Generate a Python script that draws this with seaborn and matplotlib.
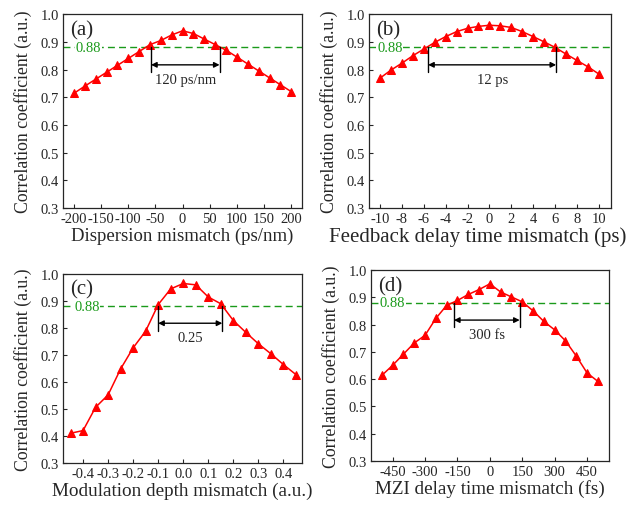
import numpy as np
import pandas as pd
import matplotlib
matplotlib.use("Agg")
import matplotlib.pyplot as plt
import seaborn as sns

# ---- data ----
disp_x = list(range(-200, 201, 20))
disp_y = [0.714, 0.740, 0.765, 0.790, 0.815, 0.840, 0.865, 0.890, 0.905, 0.925, 0.940,
          0.930, 0.910, 0.890, 0.870, 0.845, 0.820, 0.795, 0.770, 0.745, 0.720]

fb_x = list(range(-10, 11))
fb_y = [0.769, 0.798, 0.823, 0.850, 0.874, 0.898, 0.919, 0.937, 0.949, 0.956, 0.960,
        0.958, 0.952, 0.937, 0.919, 0.900, 0.880, 0.856, 0.833, 0.810, 0.784]

mod_x = [round(v, 2) for v in np.arange(-0.45, 0.451, 0.05)]
mod_y = [0.410, 0.420, 0.506, 0.552, 0.648, 0.726, 0.788, 0.886, 0.944, 0.964,
         0.959, 0.914, 0.889, 0.827, 0.783, 0.741, 0.704, 0.664, 0.627]

mzi_x = list(range(-500, 501, 50))
mzi_y = [0.614, 0.651, 0.692, 0.733, 0.761, 0.823, 0.871, 0.889, 0.911, 0.929, 0.950,
         0.920, 0.902, 0.884, 0.851, 0.812, 0.781, 0.741, 0.685, 0.623, 0.592]

threshold = 0.88

panels = [
    dict(tag="(a)", x=disp_x, y=disp_y, xlabel="Dispersion mismatch (ps/nm)", xfs=13.5,
         xlab_pos=0.5, xlim=(-220, 220), xticks=list(range(-200, 201, 50)),
         bracket=(-58, 68), text="120 ps/nm", thr_label_x=-174),
    dict(tag="(b)", x=fb_x, y=fb_y, xlabel="Feedback delay time mismatch (ps)", xfs=15.0,
         xlab_pos=0.45, xlim=(-11, 11.1), xticks=list(range(-10, 11, 2)),
         bracket=(-5.6, 6.1), text="12 ps", thr_label_x=-9.1),
    dict(tag="(c)", x=mod_x, y=mod_y, xlabel="Modulation depth mismatch (a.u.)", xfs=13.8,
         xlab_pos=0.5, xlim=(-0.48, 0.475),
         xticks=[-0.4, -0.3, -0.2, -0.1, 0.0, 0.1, 0.2, 0.3, 0.4],
         bracket=(-0.1, 0.156), text="0.25", thr_label_x=-0.385),
    dict(tag="(d)", x=mzi_x, y=mzi_y, xlabel="MZI delay time mismatch (fs)", xfs=13.8,
         xlab_pos=0.5, xlim=(-550, 551), xticks=list(range(-450, 451, 150)),
         bracket=(-166, 138), text="300 fs", thr_label_x=-452),
]

# axes rectangles [left, bottom, width, height] in figure fraction
rects = [
    [0.098, 0.587, 0.372, 0.383],
    [0.574, 0.587, 0.376, 0.383],
    [0.098, 0.083, 0.372, 0.374],
    [0.577, 0.087, 0.370, 0.377],
]

sns.set_style("ticks")
plt.rcParams["font.family"] = ["Liberation Serif", "DejaVu Serif"]
plt.rcParams["axes.unicode_minus"] = False

fig = plt.figure(figsize=(6.43, 5.06), dpi=100)

for p, r in zip(panels, rects):
    ax = fig.add_axes(r)
    df = pd.DataFrame({"x": p["x"], "y": p["y"]})
    sns.lineplot(data=df, x="x", y="y", ax=ax, color="red", marker="^",
                 markersize=5.5, markeredgecolor="red", linewidth=1.1)

    ax.axhline(threshold, color="#1a9a1a", linestyle=(0, (5, 3)), linewidth=1.0, zorder=1)
    ax.text(p["thr_label_x"], threshold, "0.88", color="#1a9a1a", fontsize=10.5,
            ha="center", va="center",
            bbox=dict(facecolor="white", edgecolor="none", pad=0.5), zorder=2)

    x0, x1 = p["bracket"]
    for xv in (x0, x1):
        ax.plot([xv, xv], [threshold, 0.79], color="black", linewidth=1.0, zorder=3)
    ax.annotate("", xy=(x0, 0.817), xytext=(x1, 0.817),
                arrowprops=dict(arrowstyle="<|-|>", color="black", lw=1.0,
                                shrinkA=0, shrinkB=0, mutation_scale=8))
    ax.text((x0 + x1) / 2, 0.763, p["text"], fontsize=10.5, ha="center", va="center")

    ax.text(0.03, 0.97, p["tag"], transform=ax.transAxes, fontsize=15,
            ha="left", va="top")

    ax.set_xlim(*p["xlim"])
    ax.set_ylim(0.3, 1.0)
    ax.set_xticks(p["xticks"])
    if p["tag"] == "(c)":
        ax.set_xticklabels([f"{v:.1f}" for v in p["xticks"]])
    ax.set_yticks(np.round(np.arange(0.3, 1.01, 0.1), 1))
    ax.tick_params(direction="in", length=3, width=0.8, labelsize=10.5, pad=3)
    for s in ax.spines.values():
        s.set_linewidth(0.9)
    ax.set_xlabel(p["xlabel"], fontsize=p["xfs"], labelpad=1)
    ax.xaxis.label.set_x(p["xlab_pos"])
    ax.set_ylabel("Correlation coefficient (a.u.)", fontsize=12.8, labelpad=6)

fig.savefig("out.png", dpi=100)
